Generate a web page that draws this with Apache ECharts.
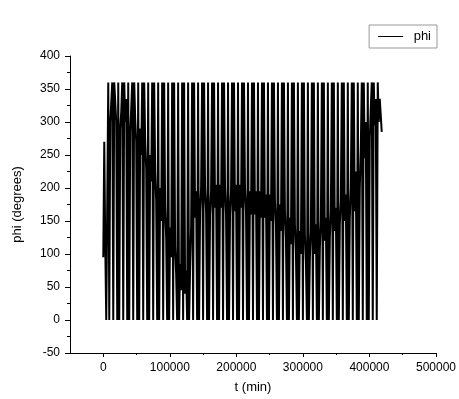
<!DOCTYPE html>
<html>
<head>
<meta charset="utf-8">
<script src="https://cdn.jsdelivr.net/npm/echarts@6/dist/echarts.min.js"></script>
<style>
html,body{margin:0;padding:0;background:#fff;}
#chart{width:459px;height:399px;}
</style>
</head>
<body>
<div id="chart"></div>
<script>
// Sampling interval of the recorded angle (min)
const sampleStep = 1500;
// phi (degrees), wrapped into [0, 360], one value per sample
const phiValues = [
  95, 270, 110, 0, 0,
  360, 0, 300, 330, 360,   0, 360, 330, 300, 0,   360, 0, 290, 315, 360,   0, 360, 300, 335, 0,
  360, 0, 285, 320, 360,   0, 360, 305, 270, 0,   360, 0, 290, 250, 360,   0, 360, 270, 230, 0,
  360, 0, 250, 210, 360,   0, 360, 225, 180, 0,   360, 0, 200, 150, 360,   0, 360, 170, 125, 0,
  360, 0, 140, 95, 360,    0, 360, 110, 70, 0,    360, 0, 85, 45, 360,     0, 360, 40, 75, 0,
  360, 0, 80, 140, 360,    0, 360, 155, 195, 0,   360, 0, 165, 200, 360,   0, 360, 200, 165, 0,
  360, 0, 160, 195, 360,   0, 360, 170, 205, 0,   360, 0, 205, 170, 360,   0, 360, 200, 160, 0,
  360, 0, 160, 195, 360,   0, 360, 165, 205, 0,   360, 0, 205, 170, 360,   0, 360, 200, 165, 0,
  360, 0, 195, 160, 360,   0, 360, 160, 195, 0,   360, 0, 195, 155, 360,   0, 360, 155, 190, 0,
  360, 0, 190, 150, 360,   0, 360, 180, 145, 0,   360, 0, 175, 135, 360,   0, 360, 165, 125, 0,
  360, 0, 155, 115, 360,   0, 360, 145, 105, 0,   360, 0, 135, 100, 360,   0, 360, 130, 90, 0,
  360, 0, 95, 135, 360,    0, 360, 100, 145, 0,   360, 0, 110, 150, 360,   0, 360, 120, 155, 0,
  360, 0, 125, 165, 360,   0, 360, 135, 170, 0,   360, 0, 145, 180, 360,   0, 360, 150, 190, 0,
  360, 0, 155, 200, 360,   0, 360, 165, 225, 0,   360, 0, 200, 260, 360,   0, 360, 245, 300, 0,
  360, 0, 275, 320, 360,   0, 360, 295, 335, 0,
  360, 300, 335, 310, 285
];
const xMajorTicks = [0, 100000, 200000, 300000, 400000, 500000];
const xMinorTicks = [50000, 150000, 250000, 350000, 450000];
const seriesName = 'phi';

const points = phiValues.map((v, i) => [i * sampleStep, v]);
const font = 'Liberation Sans, Arial, sans-serif';

const chart = echarts.init(document.getElementById('chart'));
chart.setOption({
  animation: false,
  backgroundColor: '#ffffff',
  legend: {
    show: true,
    right: 22, top: 25,
    orient: 'vertical',
    data: [{name: seriesName, icon: 'path://M0,0L1,0L1,0.04L0,0.04Z'}],
    itemWidth: 36, itemHeight: 1,
    itemGap: 0,
    padding: [5, 6, 5, 9],
    borderColor: '#999', borderWidth: 1,
    textStyle: {fontFamily: font, fontSize: 13, color: '#000'}
  },
  grid: {left: 70, right: 21, top: 56, bottom: 46},
  xAxis: [{
    type: 'value', min: -50000, max: 500000,
    name: 't (min)', nameLocation: 'middle', nameGap: 28,
    nameTextStyle: {fontFamily: font, fontSize: 13, color: '#000'},
    axisLine: {show: true, onZero: false, lineStyle: {color: '#000', width: 1}},
    axisTick: {show: true, length: 4, customValues: xMajorTicks, lineStyle: {color: '#000'}},
    axisLabel: {customValues: xMajorTicks, formatter: v => String(v), fontFamily: font, fontSize: 12, color: '#000', margin: 9},
    splitLine: {show: false}
  }, {
    type: 'value', min: -50000, max: 500000, position: 'bottom',
    axisLine: {show: false, onZero: false},
    axisTick: {show: true, length: 2, customValues: xMinorTicks, lineStyle: {color: '#000'}},
    axisLabel: {show: false},
    splitLine: {show: false}
  }],
  yAxis: {
    type: 'value', min: -50, max: 400, interval: 50,
    name: 'phi (degrees)', nameLocation: 'middle', nameGap: 46,
    nameTextStyle: {fontFamily: font, fontSize: 13, color: '#000'},
    axisLine: {show: true, onZero: false, lineStyle: {color: '#000', width: 1}},
    axisTick: {show: true, length: 5, lineStyle: {color: '#000'}},
    minorTick: {show: true, splitNumber: 2, length: 3, lineStyle: {color: '#000'}},
    axisLabel: {fontFamily: font, fontSize: 12, color: '#000', margin: 10},
    splitLine: {show: false}
  },
  series: [{
    name: seriesName, type: 'line', data: points,
    xAxisIndex: 0,
    showSymbol: false, symbol: 'none',
    lineStyle: {color: '#000', width: 2},
    itemStyle: {color: '#000'}
  }]
});
</script>
</body>
</html>
